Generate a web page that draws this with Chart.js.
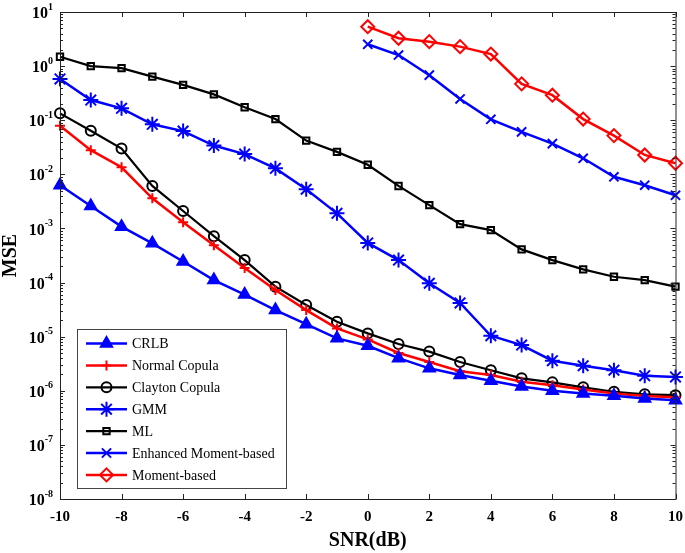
<!DOCTYPE html>
<html>
<head>
<meta charset="utf-8">
<script src="https://cdn.jsdelivr.net/npm/chart.js@4/dist/chart.umd.min.js"></script>
<style>
  html, body { margin: 0; padding: 0; background: #fff; }
  canvas { display: block; }
</style>
</head>
<body>
<canvas id="mseChart" width="685" height="553"></canvas>
<script>
// SNR values (dB)
const snr = [-10, -9, -8, -7, -6, -5, -4, -3, -2, -1, 0, 1, 2, 3, 4, 5, 6, 7, 8, 9, 10];
const snrHigh = [0, 1, 2, 3, 4, 5, 6, 7, 8, 9, 10];

// MSE
const crlb = [6.3e-3, 2.6e-3, 1.08e-3, 5.3e-4, 2.45e-4, 1.11e-4, 6.0e-5, 3.1e-5, 1.7e-5, 9.3e-6, 6.8e-6, 4.0e-6, 2.6e-6, 1.95e-6, 1.53e-6, 1.2e-6, 1.0e-6, 8.9e-7, 8.1e-7, 7.2e-7, 6.7e-7];
const normalCopula = [7.9e-2, 2.8e-2, 1.35e-2, 3.6e-3, 1.3e-3, 4.9e-4, 1.85e-4, 7.3e-5, 3.1e-5, 1.42e-5, 8.9e-6, 5.0e-6, 3.4e-6, 2.3e-6, 1.95e-6, 1.47e-6, 1.27e-6, 1.06e-6, 8.9e-7, 8.0e-7, 7.6e-7];
const claytonCopula = [0.134, 0.064, 0.030, 6.1e-3, 2.1e-3, 7.2e-4, 2.6e-4, 8.4e-5, 3.85e-5, 1.89e-5, 1.15e-5, 7.3e-6, 5.3e-6, 3.4e-6, 2.4e-6, 1.7e-6, 1.43e-6, 1.16e-6, 9.6e-7, 8.6e-7, 8.3e-7];
const gmm = [0.58, 0.236, 0.166, 0.084, 0.063, 0.034, 0.0237, 0.0129, 5.3e-3, 1.9e-3, 5.4e-4, 2.6e-4, 9.7e-5, 4.2e-5, 1.04e-5, 7.0e-6, 3.6e-6, 2.9e-6, 2.4e-6, 1.9e-6, 1.8e-6];
const ml = [1.49, 1.0, 0.92, 0.64, 0.45, 0.30, 0.174, 0.105, 0.042, 0.026, 0.015, 6.1e-3, 2.7e-3, 1.2e-3, 9.3e-4, 4.1e-4, 2.6e-4, 1.75e-4, 1.28e-4, 1.11e-4, 8.4e-5];
const enhancedMoment = [2.53, 1.6, 0.68, 0.247, 0.104, 0.061, 0.037, 0.0198, 0.009, 0.0063, 0.0041];
const momentBased = [5.35, 3.27, 2.83, 2.29, 1.67, 0.47, 0.29, 0.105, 0.052, 0.0228, 0.016];

const xTicks = [-10, -8, -6, -4, -2, 0, 2, 4, 6, 8, 10];
const yExponents = [1, 0, -1, -2, -3, -4, -5, -6, -7, -8];

const BLUE = '#0000ff', RED = '#ff0000', BLACK = '#000000';
const FONT = "'Liberation Serif', 'Times New Roman', serif";

function pts(xs, ys) {
    return xs.map((x, i) => ({ x: x, y: ys[i] }));
}

function series(label, xs, ys, color, style, radius, filled, lineWidth) {
    return {
        label: label,
        data: pts(xs, ys),
        borderColor: color,
        backgroundColor: color,
        borderWidth: lineWidth,
        pointStyle: style,
        pointRadius: radius,
        pointBorderWidth: 2,
        pointBorderColor: color,
        pointBackgroundColor: filled ? color : 'rgba(255,255,255,0)',
        tension: 0,
        clip: false
    };
}

const datasets = [
    series('CRLB', snr, crlb, BLUE, 'triangle', 6.5, true, 2.5),
    series('Normal Copula', snr, normalCopula, RED, 'cross', 5, false, 2.5),
    series('Clayton Copula', snr, claytonCopula, BLACK, 'circle', 5, false, 2.2),
    series('GMM', snr, gmm, BLUE, 'star', 7.5, false, 2.5),
    series('ML', snr, ml, BLACK, 'rect', 4.5, false, 2.2),
    series('Enhanced Moment-based', snrHigh, enhancedMoment, BLUE, 'crossRot', 6.5, false, 2.5),
    series('Moment-based', snrHigh, momentBased, RED, 'rectRot', 6.5, false, 2.5)
];

// frame, inward ticks, tick labels, titles and the boxed legend
const decorations = {
    id: 'decorations',
    afterDraw(chart) {
        const ctx = chart.ctx;
        const area = chart.chartArea;
        const xs = chart.scales.x;
        const ys = chart.scales.y;
        ctx.save();

        // frame
        ctx.strokeStyle = '#222';
        ctx.lineWidth = 1;
        ctx.strokeRect(area.left + 0.5, area.top + 0.5, area.right - area.left, area.bottom - area.top);

        // x ticks
        ctx.beginPath();
        xTicks.forEach(v => {
            const px = Math.round(xs.getPixelForValue(v)) + 0.5;
            ctx.moveTo(px, area.bottom); ctx.lineTo(px, area.bottom - 5);
            ctx.moveTo(px, area.top); ctx.lineTo(px, area.top + 5);
        });
        // y ticks, major and minor
        yExponents.forEach(e => {
            for (let m = 1; m <= 9; m++) {
                const v = m * Math.pow(10, e);
                if (v > 10 || v < 1e-8) continue;
                const py = Math.round(ys.getPixelForValue(v)) + 0.5;
                const len = m === 1 ? 5 : 3;
                ctx.moveTo(area.left, py); ctx.lineTo(area.left + len, py);
                ctx.moveTo(area.right, py); ctx.lineTo(area.right - len, py);
            }
        });
        ctx.stroke();

        // x tick labels
        ctx.fillStyle = '#000';
        ctx.font = 'bold 15px ' + FONT;
        ctx.textAlign = 'center';
        ctx.textBaseline = 'middle';
        xTicks.forEach(v => {
            ctx.fillText(String(v), xs.getPixelForValue(v), 517);
        });

        // y tick labels: 10 with exponent
        const labelRight = 53;
        yExponents.forEach(e => {
            const py = ys.getPixelForValue(Math.pow(10, e));
            const exp = String(e);
            ctx.font = 'bold 10px ' + FONT;
            const ew = ctx.measureText(exp).width;
            ctx.textAlign = 'left';
            ctx.fillText(exp, labelRight - ew, py - 5);
            ctx.font = 'bold 16px ' + FONT;
            ctx.textAlign = 'right';
            ctx.fillText('10', labelRight - ew, py + 2);
        });

        // axis titles
        ctx.font = 'bold 20px ' + FONT;
        ctx.textAlign = 'center';
        ctx.fillText('SNR(dB)', (area.left + area.right) / 2, 541);
        ctx.save();
        ctx.translate(11, (area.top + area.bottom) / 2);
        ctx.rotate(-Math.PI / 2);
        ctx.fillText('MSE', 0, 0);
        ctx.restore();

        // legend
        const box = { left: 77.5, top: 329.5, right: 286.5, bottom: 488.5 };
        ctx.fillStyle = '#fff';
        ctx.fillRect(box.left, box.top, box.right - box.left, box.bottom - box.top);
        ctx.strokeStyle = '#444';
        ctx.lineWidth = 1;
        ctx.strokeRect(box.left, box.top, box.right - box.left, box.bottom - box.top);

        chart.data.datasets.forEach((ds, i) => {
            const y = 343.5 + i * 21.9;
            ctx.strokeStyle = ds.borderColor;
            ctx.lineWidth = ds.borderWidth;
            ctx.beginPath();
            ctx.moveTo(86, y); ctx.lineTo(127, y);
            ctx.stroke();
            ctx.strokeStyle = ds.pointBorderColor;
            ctx.fillStyle = ds.pointBackgroundColor;
            ctx.lineWidth = ds.pointBorderWidth;
            Chart.helpers.drawPoint(ctx, {
                pointStyle: ds.pointStyle,
                radius: ds.pointRadius,
                rotation: 0,
                borderWidth: ds.pointBorderWidth
            }, 106.5, y);
            ctx.fillStyle = '#000';
            ctx.font = '14px ' + FONT;
            ctx.textAlign = 'left';
            ctx.textBaseline = 'middle';
            ctx.fillText(ds.label, 132, y + 1);
        });

        ctx.restore();
    }
};

window.onload = function () {
    const ctx = document.getElementById('mseChart').getContext('2d');
    new Chart(ctx, {
        type: 'line',
        data: { datasets: datasets },
        options: {
            responsive: false,
            animation: false,
            devicePixelRatio: 1,
            layout: { padding: { left: 60, right: 7, top: 12, bottom: 54 } },
            scales: {
                x: { type: 'linear', min: -10, max: 10, display: false },
                y: { type: 'logarithmic', min: 1e-8, max: 10, display: false }
            },
            plugins: {
                legend: { display: false },
                tooltip: { enabled: false }
            }
        },
        plugins: [decorations]
    });
};
</script>
</body>
</html>
